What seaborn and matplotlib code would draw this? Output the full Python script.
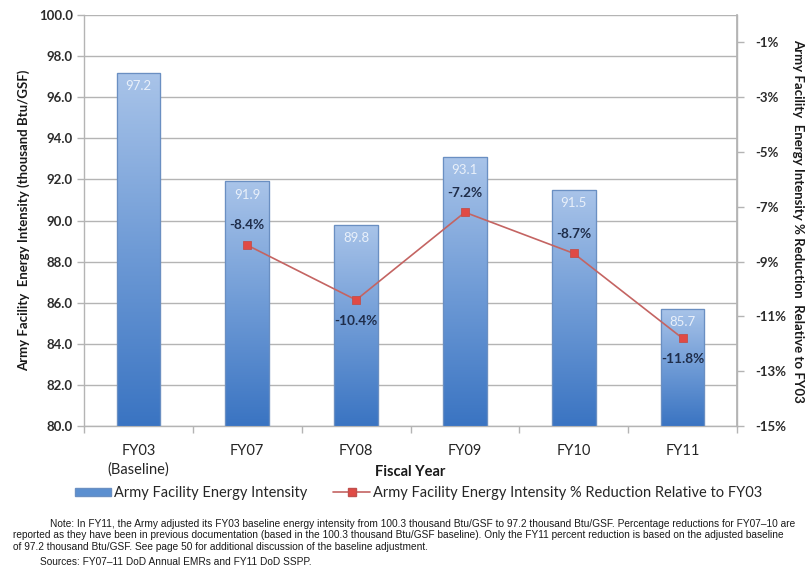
import numpy as np
import pandas as pd
import matplotlib
matplotlib.use("Agg")
import matplotlib.pyplot as plt
import seaborn as sns
from matplotlib.lines import Line2D
from matplotlib.patches import Rectangle
from matplotlib.colors import LinearSegmentedColormap

categories = ["FY03\n(Baseline)", "FY07", "FY08", "FY09", "FY10", "FY11"]
intensity = [97.2, 91.9, 89.8, 93.1, 91.5, 85.7]
reduction_cats = ["FY07", "FY08", "FY09", "FY10", "FY11"]
reduction = [-8.4, -10.4, -7.2, -8.7, -11.8]
left_ticks = [80, 82, 84, 86, 88, 90, 92, 94, 96, 98, 100]
right_ticks = [-15, -13, -11, -9, -7, -5, -3, -1]

sns.set_theme(style="white")
FONT = ["Lato", "DejaVu Sans"]
plt.rcParams["font.family"] = FONT

W, H = 809, 573
fig = plt.figure(figsize=(W / 100, H / 100), dpi=100)
L, R, T, B = 84, 737, 15, 426
ax = fig.add_axes([L / W, 1 - B / H, (R - L) / W, (B - T) / H])

df = pd.DataFrame({"cat": categories, "val": intensity})
sns.barplot(data=df, x="cat", y="val", ax=ax, width=0.4, color="#5b8fd0",
            edgecolor="#5f87bd", linewidth=0.8, zorder=3)
ax.set_ylim(80, 100)
ax.set_xlim(-0.5, len(categories) - 0.5)

# gradient fill for bars
grad = np.linspace(0, 1, 256).reshape(-1, 1)
cmap = LinearSegmentedColormap.from_list("g", ["#3a74c2", "#6f9bd6", "#a9c4e9"])
for p in list(ax.patches):
    x0, y0 = p.get_x(), p.get_y()
    w = p.get_width()
    y0 = max(y0, 80)
    top = p.get_y() + p.get_height()
    im = ax.imshow(grad, extent=[x0, x0 + w, y0, top], origin="lower",
                   cmap=cmap, aspect="auto", zorder=3.5)
    im.set_clip_path(p)
    edge = Rectangle((x0, y0), w, top - y0, fill=False, edgecolor="#6a8fc2",
                     linewidth=0.9, zorder=4)
    ax.add_patch(edge)
ax.set_xlim(-0.5, len(categories) - 0.5)
ax.set_ylim(80, 100)

for i, v in enumerate(intensity):
    ax.text(i, v - 0.35, f"{v:.1f}", ha="center", va="top", color="#e9f0fa",
            fontsize=9.5, zorder=6, family=FONT)

ax.set_yticks(left_ticks)
ax.set_yticklabels([f"{t:.1f}" for t in left_ticks], fontsize=9.5,
                   fontweight="bold", color="#2b2b2b")
ax.yaxis.grid(True, color="#b4b4b4", linewidth=1.0, zorder=0)
ax.xaxis.grid(False)
ax.set_axisbelow(True)
ax.tick_params(axis="y", which="major", length=5, width=1, color="#b4b4b4",
               pad=3, left=True)
ax.set_xticks(range(len(categories)))
ax.set_xticklabels(categories, fontsize=10.5, color="#262626", linespacing=1.4)
ax.tick_params(axis="x", which="major", length=0, pad=13)
ax.set_xticks(np.arange(-0.5, len(categories), 1.0), minor=True)
ax.tick_params(axis="x", which="minor", length=5, width=1, color="#b4b4b4",
               bottom=True)
for s in ["left", "bottom", "right"]:
    ax.spines[s].set_color("#b4b4b4")
    ax.spines[s].set_linewidth(1.0)
ax.spines["top"].set_visible(False)
ax.set_xlabel("")
ax.set_ylabel("Army Facility  Energy Intensity (thousand Btu/GSF)",
              fontsize=9.5, fontweight="bold", color="#1a1a1a", labelpad=6)

ax2 = ax.twinx()
ax2.set_ylim(-15, 0)
rdf = pd.DataFrame({"cat": reduction_cats, "val": reduction})
sns.lineplot(data=rdf, x="cat", y="val", ax=ax2, color="#c46462", linewidth=1.2,
             marker="s", markersize=5.5, markerfacecolor="#e04a45",
             markeredgecolor="#c0504d", markeredgewidth=0.6, zorder=5,
             sort=False)
ax.set_xlim(-0.5, len(categories) - 0.5)
ax2.set_yticks(right_ticks)
ax2.set_yticklabels([f"{t}%" for t in right_ticks], fontsize=9.5,
                    fontweight="bold", color="#2b2b2b")
ax2.tick_params(axis="y", length=5, width=1, color="#b4b4b4", pad=8, right=True)
ax2.grid(False)
for s in ["left", "bottom", "top"]:
    ax2.spines[s].set_visible(False)
ax2.spines["right"].set_color("#b4b4b4")
ax2.set_xlabel("")
ax2.set_ylabel("Army Facility  Energy Intensity % Reduction  Relative to FY03",
               fontsize=9.5, fontweight="bold", color="#1a1a1a", rotation=270,
               labelpad=13)

above = [True, False, True, True, False]
for c, v, up in zip(reduction_cats, reduction, above):
    i = categories.index(c)
    off = 0.5 if up else -0.55
    ax2.text(i, v + off, f"{v}%", ha="center", va="bottom" if up else "top",
             fontsize=9.8, fontweight="bold", color="#1f2d4a", zorder=7,
             family=FONT)

fig.text((L + R) / 2 / W, 1 - 472 / H, "Fiscal Year", ha="center", va="center",
         fontsize=10.5, fontweight="bold", color="#1a1a1a")

# legend
bar_handle = Rectangle((0, 0), 1, 1, facecolor="#5b8fd0", edgecolor="#6a8fc2")
line_handle = Line2D([0], [0], color="#c46462", linewidth=1.2, marker="s",
                     markersize=5.5, markerfacecolor="#e04a45",
                     markeredgecolor="#c0504d")
leg = fig.legend([bar_handle, line_handle],
                 ["Army Facility Energy Intensity",
                  "Army Facility Energy Intensity % Reduction Relative to FY03"],
                 loc="center", bbox_to_anchor=(0.517, 1 - 493 / H), ncol=2,
                 frameon=False, fontsize=10.5, handlelength=2.5,
                 handleheight=0.45, handletextpad=0.2, columnspacing=1.8)
for t in leg.get_texts():
    t.set_color("#262626")

NFONT = ["Liberation Sans Narrow", "Liberation Sans", "DejaVu Sans"]
note_lines = [
    "Note: In FY11, the Army adjusted its FY03 baseline energy intensity from 100.3 thousand Btu/GSF to 97.2 thousand Btu/GSF. Percentage reductions for FY07\u201310 are",
    "reported as they have been in previous documentation (based in the 100.3 thousand Btu/GSF baseline). Only the FY11 percent reduction is based on the adjusted baseline",
    "of 97.2 thousand Btu/GSF. See page 50 for additional discussion of the baseline adjustment.",
]
NS = 7.25
fig.text(50 / W, 1 - 524 / H, note_lines[0], fontsize=NS, family=NFONT,
         va="center", ha="left", color="#1a1a1a")
fig.text(13 / W, 1 - 535.5 / H, note_lines[1], fontsize=NS, family=NFONT,
         va="center", ha="left", color="#1a1a1a")
fig.text(13 / W, 1 - 547 / H, note_lines[2], fontsize=NS, family=NFONT,
         va="center", ha="left", color="#1a1a1a")
fig.text(40 / W, 1 - 562 / H, "Sources: FY07\u201311 DoD Annual EMRs and FY11 DoD SSPP.",
         fontsize=NS, family=NFONT, va="center", ha="left", color="#1a1a1a")

fig.savefig("out.png", dpi=100, facecolor="white")
